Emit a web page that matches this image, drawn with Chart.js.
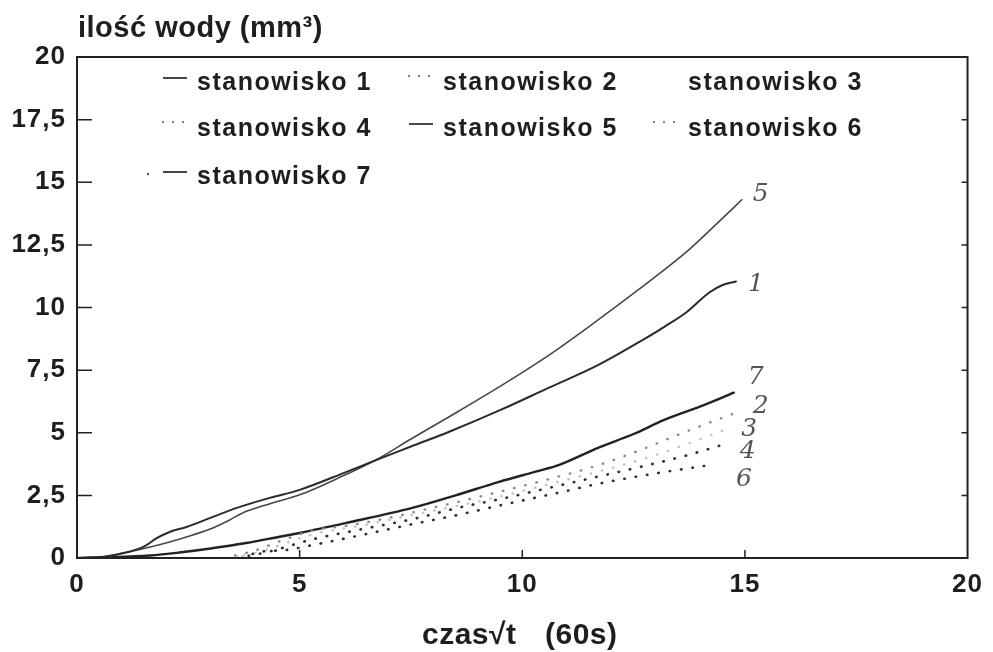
<!DOCTYPE html>
<html><head><meta charset="utf-8">
<script src="https://cdn.jsdelivr.net/npm/chart.js@4"></script>
<style>html,body{margin:0;padding:0;background:#fff}#wrap{width:993px;height:652px}</style>
</head><body><div id="wrap"><canvas id="c" width="993" height="652"></canvas></div>
<script>
// ---------- DATA ----------
const seriesLabels = ['stanowisko 1','stanowisko 2','stanowisko 3','stanowisko 4','stanowisko 5','stanowisko 6','stanowisko 7'];
const curveTags = ['1','2','3','4','5','6','7'];

const x1 = [0, 0.6, 1.15, 1.5, 1.8, 2.08, 2.46, 3.05, 3.59, 4.33, 5.0, 6.0, 6.7, 7.5, 8.36, 9.5, 10.6, 11.7, 12.7, 13.2, 13.68, 14.2, 14.5, 14.8];
const y1 = [0, 0.05, 0.24, 0.45, 0.8, 1.04, 1.24, 1.64, 2.0, 2.4, 2.72, 3.4, 3.9, 4.45, 5.04, 5.9, 6.8, 7.7, 8.7, 9.24, 9.8, 10.6, 10.9, 11.04];

const x2 = [3.3, 4.0, 4.6, 5.3, 6.1, 7.0, 7.85, 8.7, 9.5, 10.6, 11.7, 12.78, 13.5, 14.2, 14.86];
const y2 = [0, 0.3, 0.7, 1.1, 1.3, 1.6, 1.95, 2.3, 2.65, 3.15, 3.7, 4.4, 4.92, 5.4, 5.84];

const x3 = [3.5, 4.2, 5.3, 6.4, 7.53, 8.6, 9.5, 10.6, 11.7, 12.8, 13.7, 14.6];
const y3 = [0, 0.3, 0.95, 1.3, 1.72, 2.1, 2.45, 2.95, 3.45, 4.0, 4.55, 5.15];

const x4 = [3.6, 4.3, 5.3, 6.4, 7.53, 8.65, 9.5, 10.6, 11.7, 12.8, 13.7, 14.5];
const y4 = [0, 0.25, 0.75, 1.15, 1.55, 2.04, 2.35, 2.8, 3.25, 3.7, 4.1, 4.52];

const x5 = [0, 0.6, 1.15, 1.6, 2.08, 2.6, 3.05, 3.43, 3.72, 4.3, 5.0, 6.0, 6.7, 7.5, 8.36, 9.5, 10.6, 11.5, 12.6, 13.74, 14.4, 14.93];
const y5 = [0, 0.05, 0.24, 0.42, 0.64, 0.92, 1.2, 1.52, 1.8, 2.15, 2.52, 3.3, 3.9, 4.75, 5.64, 6.85, 8.1, 9.24, 10.7, 12.3, 13.4, 14.3];

const x6 = [3.7, 4.1, 4.7, 5.3, 6.4, 7.53, 8.5, 9.5, 10.9, 11.7, 12.9, 14.26];
const y6 = [0, 0.24, 0.32, 0.52, 0.92, 1.35, 1.7, 2.1, 2.64, 2.96, 3.35, 3.72];

const x7 = [0, 0.8, 1.64, 2.3, 3.0, 3.8, 4.55, 5.0, 6.05, 7.53, 8.5, 9.48, 10.3, 10.83, 11.7, 12.5, 13.2, 14.0, 14.75];
const y7 = [0, 0.03, 0.1, 0.22, 0.38, 0.6, 0.85, 1.0, 1.4, 2.0, 2.5, 3.04, 3.45, 3.72, 4.4, 4.95, 5.52, 6.05, 6.6];

const xTicks = [0, 5, 10, 15, 20];
const xTickLabels = ['0', '5', '10', '15', '20'];
const yTicks = [0, 2.5, 5, 7.5, 10, 12.5, 15, 17.5, 20];
const yTickLabels = ['0', '2,5', '5', '7,5', '10', '12,5', '15', '17,5', '20'];

const yTitle = 'ilość wody (mm³)';
const xTitleMain = 'czas√t';
const xTitleUnit = '(60s)';

// ---------- STYLES ----------
const xsAll = [x1, x2, x3, x4, x5, x6, x7];
const ysAll = [y1, y2, y3, y4, y5, y6, y7];
const lineStyles = [
  {color:'#2b2b2b', width:2.0, dash:[]},
  {color:'#8a8a8a', width:2.4, dash:[0.5,11]},
  {color:'#c4c4c4', width:2.4, dash:[0.5,11]},
  {color:'#2e2e2e', width:2.6, dash:[0.5,11]},
  {color:'#474747', width:1.6, dash:[]},
  {color:'#2e2e2e', width:2.6, dash:[0.5,11]},
  {color:'#222222', width:2.4, dash:[]}
];
const legendSymbols = ['solid','dots','none','dots','solid','dots','dashdot'];
const tagOffsets = [{dx:20,dy:3},{dx:22,dy:-5},{dx:22,dy:1},{dx:25,dy:7},{dx:19,dy:-5},{dx:32,dy:15},{dx:22,dy:-15}];

const datasets = seriesLabels.map((lab, i) => ({
  label: lab,
  data: xsAll[i].map((x, k) => ({x: x, y: ysAll[i][k]})),
  borderColor: lineStyles[i].color,
  borderWidth: lineStyles[i].width,
  borderDash: lineStyles[i].dash,
  borderCapStyle: 'round',
  pointRadius: 0,
  fill: false,
  cubicInterpolationMode: 'monotone'
}));

const TXT = '#1e1e1e';
const FONT = '"Liberation Sans", Arial, sans-serif';

const decor = {
  id: 'decor',
  beforeDraw(chart) { chart.ctx.letterSpacing = '1px'; },
  afterDatasetsDraw(chart) {
    const ctx = chart.ctx, a = chart.chartArea;
    const xs = chart.scales.x, ys = chart.scales.y;
    ctx.save();
    ctx.letterSpacing = '0px';
    ctx.strokeStyle = '#222';
    ctx.lineWidth = 2;
    ctx.setLineDash([]);
    ctx.strokeRect(a.left, a.top, a.right - a.left, a.bottom - a.top);
    ctx.lineWidth = 1.5;
    ctx.beginPath();
    yTicks.forEach(v => {
      const py = ys.getPixelForValue(v);
      if (v > 0 && v < 20) {
        ctx.moveTo(a.left, py); ctx.lineTo(a.left + 15, py);
        ctx.moveTo(a.right, py); ctx.lineTo(a.right - 6, py);
      }
    });
    xTicks.forEach(v => {
      const px = xs.getPixelForValue(v);
      if (v > 0 && v < 20) { ctx.moveTo(px, a.bottom); ctx.lineTo(px, a.bottom - 8); }
    });
    ctx.stroke();
    ctx.restore();
  },
  afterDraw(chart) {
    const ctx = chart.ctx;
    ctx.save();
    ctx.fillStyle = TXT;
    // y title
    ctx.letterSpacing = '0.5px';
    ctx.font = 'bold 29px ' + FONT;
    ctx.textAlign = 'left'; ctx.textBaseline = 'alphabetic';
    ctx.fillText(yTitle, 78, 37);
    // x title
    ctx.font = 'bold 30px ' + FONT;
    ctx.letterSpacing = '0.5px';
    ctx.textAlign = 'left';
    ctx.fillText(xTitleMain, 422, 644);
    ctx.fillText(xTitleUnit, 545, 644);
    // legend
    const colX = [197, 443, 688], rowY = [83, 129, 177];
    ctx.font = 'bold 25px ' + FONT;
    ctx.letterSpacing = '1.5px';
    ctx.textAlign = 'left'; ctx.textBaseline = 'middle';
    seriesLabels.forEach((lab, i) => {
      const tx = colX[i % 3], ty = rowY[Math.floor(i / 3)];
      ctx.fillStyle = TXT;
      ctx.fillText(lab, tx, ty);
      const sym = legendSymbols[i];
      ctx.strokeStyle = '#333'; ctx.fillStyle = '#555';
      ctx.lineWidth = 1.8; ctx.setLineDash([]);
      if (sym === 'solid' || sym === 'dashdot') {
        ctx.beginPath(); ctx.moveTo(tx - 34, ty - 5); ctx.lineTo(tx - 10, ty - 5); ctx.stroke();
      }
      if (sym === 'dashdot') {
        ctx.beginPath(); ctx.arc(tx - 49, ty - 3, 1.2, 0, Math.PI * 2); ctx.fill();
      }
      if (sym === 'dots') {
        [-34, -24, -14].forEach(d => { ctx.beginPath(); ctx.arc(tx + d, ty - 7, 1.0, 0, Math.PI * 2); ctx.fill(); });
      }
    });
    // hand-written curve numbers at the ends of the lines
    ctx.font = 'italic 25px "DejaVu Serif", serif';
    ctx.letterSpacing = '0px';
    ctx.textAlign = 'center'; ctx.textBaseline = 'middle';
    ctx.fillStyle = '#555';
    chart.data.datasets.forEach((ds, i) => {
      const meta = chart.getDatasetMeta(i);
      const last = meta.data[meta.data.length - 1];
      ctx.fillText(curveTags[i], last.x + tagOffsets[i].dx, last.y + tagOffsets[i].dy);
    });
    ctx.restore();
    ctx.letterSpacing = '0px';
  }
};

new Chart(document.getElementById('c'), {
  type: 'line',
  data: { datasets: datasets },
  options: {
    responsive: false,
    animation: false,
    devicePixelRatio: 1,
    layout: { padding: { top: 57, right: 24, left: 0, bottom: 0 } },
    plugins: { legend: { display: false }, tooltip: { enabled: false }, title: { display: false } },
    scales: {
      x: {
        type: 'linear', min: 0, max: 20,
        afterFit(s) { s.height = 94; },
        afterBuildTicks(s) { s.ticks = xTicks.map(v => ({ value: v })); },
        ticks: { autoSkip: false, maxRotation: 0, padding: 11, color: TXT,
          font: { family: FONT, size: 26, weight: 'bold' },
          callback: (v, i) => xTickLabels[i] },
        grid: { display: false, drawTicks: false },
        border: { display: false }
      },
      y: {
        type: 'linear', min: 0, max: 20,
        afterFit(s) { s.width = 77; },
        afterBuildTicks(s) { s.ticks = yTicks.map(v => ({ value: v })); },
        ticks: { autoSkip: false, padding: 11, color: TXT,
          font: { family: FONT, size: 26, weight: 'bold' },
          callback: (v, i) => yTickLabels[i] },
        grid: { display: false, drawTicks: false },
        border: { display: false }
      }
    }
  },
  plugins: [decor]
});
</script>
</body></html>
